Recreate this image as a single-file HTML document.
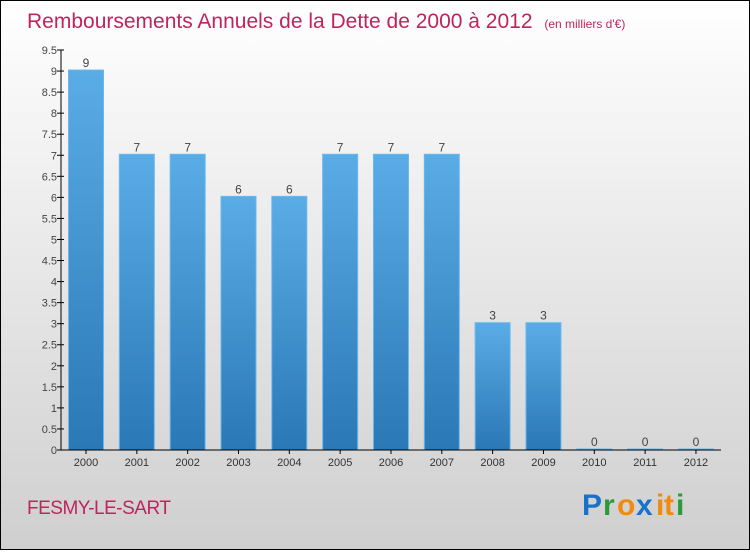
<!DOCTYPE html>
<html><head><meta charset="utf-8"><style>
html,body{margin:0;padding:0}
body{width:750px;height:550px;overflow:hidden;font-family:"Liberation Sans",sans-serif}
</style></head><body>
<svg width="750" height="550" xmlns="http://www.w3.org/2000/svg">
<defs>
<linearGradient id="bg" x1="0" y1="0" x2="0" y2="1"><stop offset="0" stop-color="#ffffff"/><stop offset="1" stop-color="#cfcfcf"/></linearGradient>
<linearGradient id="bar" x1="0" y1="0" x2="0" y2="1"><stop offset="0" stop-color="#5aace6"/><stop offset="1" stop-color="#2a78b6"/></linearGradient>
</defs>
<rect x="0.5" y="0.5" width="749" height="549" fill="url(#bg)" stroke="#000"/>
<text x="27" y="28" font-size="21" fill="#c0245c">Remboursements Annuels de la Dette de 2000 à 2012 <tspan font-size="12" dx="6">(en milliers d'€)</tspan></text>
<g id="plot"></g>
<text x="27" y="514" font-size="19" fill="#c0245c" letter-spacing="-0.5">FESMY-LE-SART</text>
<g font-size="30" font-family="'Liberation Sans',sans-serif" font-weight="bold">
<text x="582" y="515" fill="#1a72c8">P</text><text x="603" y="515" fill="#2a9a3a">r</text><text x="617" y="515" fill="#f08a10">o</text><text x="636" y="515" fill="#1a72c8">x</text><text x="656" y="515" fill="#f08a10">i</text><text x="664" y="515" fill="#f08a10">t</text><text x="676" y="515" fill="#2a9a3a">i</text>
</g>
</svg>
<script>
const categories=["2000","2001","2002","2003","2004","2005","2006","2007","2008","2009","2010","2011","2012"];
const values=[9,7,7,6,6,7,7,7,3,3,0,0,0];
const yTicks=[0,0.5,1,1.5,2,2.5,3,3.5,4,4.5,5,5.5,6,6.5,7,7.5,8,8.5,9,9.5];
const NS="http://www.w3.org/2000/svg";
const g=document.getElementById('plot');
const x0=61,x1=721,yb=450,yt=50,ymax=9.5;
const y=v=>yb-(v/ymax)*(yb-yt);
const step=50.83,first=86;
const xc=i=>first+i*step;
function mk(t,a,txt){const e=document.createElementNS(NS,t);for(const k in a)e.setAttribute(k,a[k]);if(txt!==undefined)e.textContent=txt;g.appendChild(e);return e;}
values.forEach((v,i)=>{
 const r=mk('rect',{x:xc(i)-17.5,y:y(v)-1,width:35,height:Math.max(yb-y(v),0)+1,fill:'url(#bar)',stroke:'#6ab8ee','stroke-width':1});
 
 
 const t=mk('text',{x:xc(i),y:y(v)-4,'font-size':12,fill:'#444','text-anchor':'middle'},String(v));
 
 
 const c=mk('text',{x:xc(i),y:466,'font-size':11,fill:'#333','text-anchor':'middle'},categories[i]);
 
 
 const tk=mk('line',{x1:xc(i),x2:xc(i),y1:yb,y2:yb+4,stroke:'#000'});
 
 
});
yTicks.forEach(v=>{
 const l=mk('line',{x1:x0-4,x2:x0+3,y1:y(v),y2:y(v),stroke:'#000'});
 
 
 const t=mk('text',{x:x0-4,y:y(v)+4,'font-size':11,fill:'#444','text-anchor':'end'},String(v));
 
 
});
const ya=mk('line',{x1:x0,x2:x0,y1:yt,y2:yb,stroke:'#000'});


const xa=mk('line',{x1:x0,x2:x1,y1:yb,y2:yb,stroke:'#000'});


</script>
</body></html>
